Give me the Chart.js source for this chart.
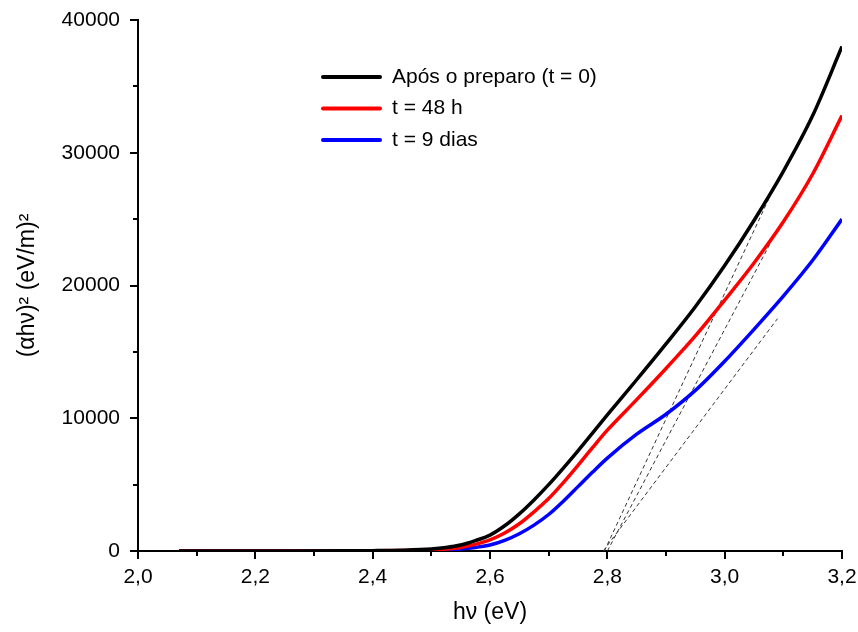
<!DOCTYPE html>
<html>
<head>
<meta charset="utf-8">
<script src="https://cdn.jsdelivr.net/npm/chart.js@4.4.1/dist/chart.umd.min.js"></script>
<style>
  html, body { margin: 0; padding: 0; background: #fff; }
  #wrap { width: 858px; height: 632px; }
</style>
</head>
<body>
<div id="wrap"><canvas id="absChart"></canvas></div>
<script>
// photon energy (eV)
const hv = [2.07, 2.15, 2.25, 2.35, 2.4, 2.45, 2.5, 2.525, 2.55, 2.575, 2.6, 2.625, 2.65, 2.675,
            2.7, 2.725, 2.75, 2.775, 2.8, 2.85, 2.9, 2.95, 3.0, 3.05, 3.1, 3.15, 3.2];

// (alpha h nu)^2 for each sample
const tZero  = [0, 0, 0, 10, 25, 60, 150, 260, 450, 780, 1200, 1900, 2800, 3850,
                5000, 6250, 7550, 8900, 10250, 12900, 15600, 18400, 21500, 24900, 28600, 32800, 38000];
const t48h   = [0, 0, 0, 5, 12, 35, 90, 150, 270, 500, 830, 1350, 2050, 2950,
                3950, 5150, 6450, 7800, 9100, 11400, 13750, 16200, 18900, 21700, 24800, 28400, 32800];
const t9dias = [0, 0, 0, 0, 5, 15, 40, 80, 150, 270, 450, 800, 1300, 1950,
                2750, 3750, 4850, 5950, 7000, 8800, 10300, 12100, 14300, 16700, 19200, 21900, 25000];

const seriesLabels = ['Após o preparo (t = 0)', 't = 48 h', 't = 9 dias'];
const seriesColors = ['#000000', '#ff0000', '#0000ff'];

// linear extrapolations to the energy axis (start and end points)
const tangentX = [[2.795, 3.077], [2.80, 3.09], [2.793, 3.09]];
const tangentY = [[0, 26700], [0, 24200], [0, 17500]];

const FONT = "'Liberation Sans', Arial, sans-serif";

function toPoints(xs, ys) {
    return xs.map((x, i) => ({ x: x, y: ys[i] }));
}

const datasets = [tZero, t48h, t9dias].map((vals, i) => ({
    label: seriesLabels[i],
    data: toPoints(hv, vals),
    borderColor: seriesColors[i],
    borderWidth: 3.5,
    pointRadius: 0,
    cubicInterpolationMode: 'monotone',
    fill: false,
    order: 1
}));

tangentX.forEach((xs, i) => {
    datasets.push({
        label: 'tangent' + i,
        data: toPoints(xs, tangentY[i]),
        borderColor: '#333333',
        borderWidth: 1,
        borderDash: [4, 3],
        pointRadius: 0,
        fill: false,
        order: 2
    });
});

// major/minor tick marks drawn outside the axes, plus the inset legend
const axisDecor = {
    id: 'axisDecor',
    afterDraw(chart) {
        const ctx = chart.ctx;
        const xs = chart.scales.x, ys = chart.scales.y;
        const area = chart.chartArea;
        ctx.save();
        ctx.strokeStyle = '#000';
        ctx.lineWidth = 2;
        xs.ticks.forEach(t => {
            const major = Math.round(t.value * 10) % 2 === 0;
            const px = Math.round(xs.getPixelForValue(t.value));
            ctx.beginPath();
            ctx.moveTo(px, area.bottom);
            ctx.lineTo(px, area.bottom + (major ? 8 : 5));
            ctx.stroke();
        });
        ys.ticks.forEach(t => {
            const major = t.value % 10000 === 0;
            const py = Math.round(ys.getPixelForValue(t.value));
            ctx.beginPath();
            ctx.moveTo(area.left, py);
            ctx.lineTo(area.left - (major ? 8 : 5), py);
            ctx.stroke();
        });

        // legend
        ctx.font = '21px ' + FONT;
        ctx.textBaseline = 'middle';
        ctx.fillStyle = '#000';
        ctx.lineWidth = 4;
        ctx.lineCap = 'round';
        seriesLabels.forEach((lab, i) => {
            const y = 77 + i * 31.5;
            ctx.strokeStyle = seriesColors[i];
            ctx.beginPath();
            ctx.moveTo(323, y);
            ctx.lineTo(380, y);
            ctx.stroke();
            ctx.fillText(lab, 392, y);
        });
        ctx.restore();
    }
};

new Chart(document.getElementById('absChart'), {
    type: 'line',
    data: { datasets: datasets },
    options: {
        responsive: true,
        maintainAspectRatio: false,
        animation: false,
        layout: { padding: { top: 20, right: 16, left: 0, bottom: 0 } },
        plugins: {
            legend: { display: false },
            tooltip: { enabled: false }
        },
        scales: {
            x: {
                type: 'linear',
                min: 2.0,
                max: 3.2,
                ticks: {
                    stepSize: 0.1,
                    autoSkip: false,
                    maxRotation: 0,
                    padding: 14,
                    color: '#000',
                    font: { family: FONT, size: 21 },
                    callback: v => Math.round(v * 10) % 2 === 0 ? v.toFixed(1).replace('.', ',') : ''
                },
                grid: { display: false, drawTicks: false },
                border: { display: true, color: '#000', width: 2 },
                title: {
                    display: true,
                    text: 'hν (eV)',
                    color: '#000',
                    font: { family: FONT, size: 23 },
                    padding: { top: 8, bottom: 6 }
                },
                afterFit: s => { s.height = 81; s.paddingLeft = 0; s.paddingRight = 0; }
            },
            y: {
                min: 0,
                max: 40000,
                ticks: {
                    stepSize: 5000,
                    autoSkip: false,
                    padding: 18,
                    color: '#000',
                    font: { family: FONT, size: 21 },
                    callback: v => v % 10000 === 0 ? String(v) : ''
                },
                grid: { display: false, drawTicks: false },
                border: { display: true, color: '#000', width: 2 },
                title: {
                    display: true,
                    text: '(αhν)² (eV/m)²',
                    color: '#000',
                    font: { family: FONT, size: 23 },
                    padding: { top: 14, bottom: 6 }
                },
                afterFit: s => { s.width = 138; s.paddingTop = 0; s.paddingBottom = 0; }
            }
        }
    },
    plugins: [axisDecor]
});
</script>
</body>
</html>
